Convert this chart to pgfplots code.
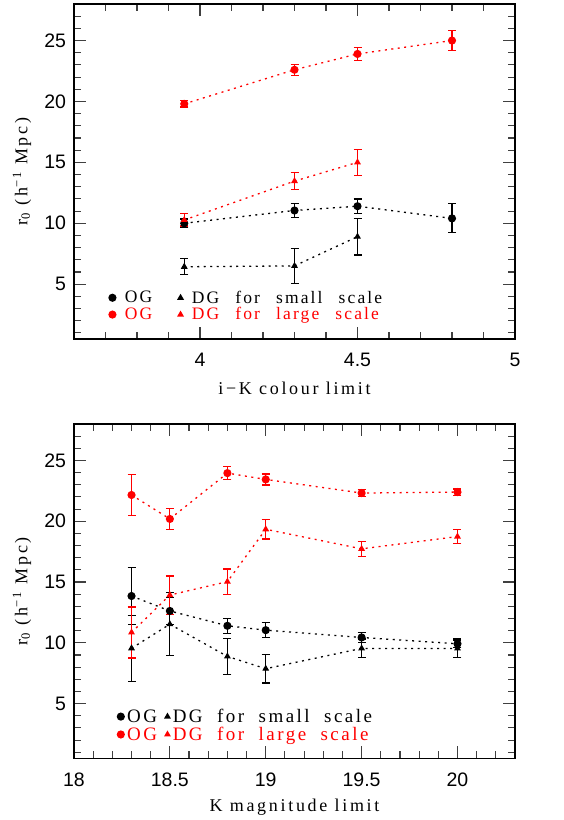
\documentclass[border=0pt]{standalone}
\usepackage{fontspec}
\usepackage{pgfplots}
\pgfplotsset{compat=1.18}
\newfontfamily\labfont{Liberation Serif}[LetterSpace=15]
\newfontfamily\legfontA{Liberation Serif}[LetterSpace=12, WordSpace=2.5]
\newfontfamily\legfontB{Liberation Serif}[LetterSpace=13, WordSpace=2]
\newfontfamily\tickfont{Liberation Sans}
\definecolor{pred}{RGB}{255,0,0}

\pgfplotsset{
  myax/.style={
    scale only axis, width=441pt,
    ymin=0.5, ymax=28,
    ytick={5,10,...,25}, minor ytick={1,2,...,28},
    tick align=inside, xtick pos=both, ytick pos=both,
    major tick length=12pt, minor tick length=7pt,
    axis line style={line width=1.6pt},
    every tick/.style={line width=1.1pt, black!75},
    /pgf/number format/assume math mode=true,
    ticklabel style={font=\tickfont\fontsize{19.5}{22}\selectfont},
    xticklabel style={yshift=-11pt},
    yticklabel style={xshift=-4.5pt},
    every axis y label/.style={at={(axis description cs:0,0.5)}, xshift=-52pt, rotate=90, anchor=center, font=\labfont\fontsize{18}{20}\selectfont},
    every axis x label/.style={at={(axis description cs:0.5,0)}, yshift=-49pt, anchor=center, font=\labfont\fontsize{18}{20}\selectfont},
    ylabel={r\textsubscript{0} (h\textsuperscript{−1} Mpc)},
    legend columns=2,
    legend cell align=left,
    legend image code/.code={\path[##1] plot coordinates {(0pt,0pt)};},
    legend style={draw=none, fill=none, inner sep=0pt, row sep=-1pt},
  },
  bs/.style={black, mark=*, mark size=3.4pt, line width=1.3pt, dash pattern=on 2pt off 4.5pt, mark options={solid},
    error bars/.cd, y dir=both, y explicit,
    error bar style={solid, line width=1.2pt},
    error mark options={rotate=90, mark size=4pt, line width=1.2pt, solid}},
  bt/.style={black, mark=triangle*, mark size=2.7pt, line width=1.3pt, dash pattern=on 2pt off 4.5pt, mark options={solid},
    error bars/.cd, y dir=both, y explicit,
    error bar style={solid, line width=1.2pt},
    error mark options={rotate=90, mark size=4pt, line width=1.2pt, solid}},
  rs/.style={pred, mark=*, mark size=3.4pt, line width=1.3pt, dash pattern=on 2pt off 4.5pt, mark options={solid},
    error bars/.cd, y dir=both, y explicit,
    error bar style={solid, line width=1.2pt},
    error mark options={rotate=90, mark size=4pt, line width=1.2pt, solid}},
  rt/.style={pred, mark=triangle*, mark size=2.7pt, line width=1.3pt, dash pattern=on 2pt off 4.5pt, mark options={solid},
    error bars/.cd, y dir=both, y explicit,
    error bar style={solid, line width=1.2pt},
    error mark options={rotate=90, mark size=4pt, line width=1.2pt, solid}},
}

\begin{document}
\begin{tikzpicture}[x=1pt,y=1pt]
\useasboundingbox (0,0) rectangle (563,820);

% ---------------- top panel ----------------
\begin{axis}[myax, at={(74pt,481pt)}, anchor=south west, height=335pt,
  xmin=3.6, xmax=5, xtick={4,4.5,5}, minor xtick={3.6,3.7,...,5.0},
  xticklabels={4,4.5,5},
  xlabel={i−K colour limit},
  legend style={at={(axis description cs:0.079,0.098)}, anchor=west,
    font=\legfontA\fontsize{17.5}{19}\selectfont,
    /tikz/every odd column/.append style={column sep=7pt},
    /tikz/every even column/.append style={column sep=24pt}},
]
\addplot+[bs] table[x=x,y=y,y error=e] {
x y e
3.95 10.0 0.35
4.3 11.05 0.57
4.5 11.4 0.6
4.8 10.4 1.19
};
\addlegendentry{OG}
\addplot+[bt] table[x=x,y=y,y error=e] {
x y e
3.95 6.43 0.65
4.3 6.5 1.45
4.5 8.9 1.5
};
\addlegendentry{DG for small scale}
\addplot+[rs] table[x=x,y=y,y error=e] {
x y e
3.95 19.8 0.25
4.3 22.6 0.44
4.5 23.9 0.55
4.8 25.0 0.8
};
\addlegendentry{\textcolor{pred}{OG}}
\addplot+[rt] table[x=x,y=y,y error=e] {
x y e
3.95 10.27 0.5
4.3 13.46 0.72
4.5 15.0 1.05
};
\addlegendentry{\textcolor{pred}{DG for large scale}}
\end{axis}

% ---------------- bottom panel ----------------
\begin{axis}[myax, at={(74pt,61.7pt)}, anchor=south west, height=334.3pt,
  xmin=18, xmax=20.3, xtick={18,18.5,19,19.5,20}, minor xtick={18.1,18.2,...,20.3},
  xticklabels={18,18.5,19,19.5,20},
  xlabel={K magnitude limit},
  legend style={at={(axis description cs:0.098,0.098)}, anchor=west,
    font=\legfontB\fontsize{19}{20}\selectfont,
    /tikz/every odd column/.append style={column sep=1pt},
    /tikz/every even column/.append style={column sep=6pt}},
]
\addplot+[bs] table[x=x,y=y,y error=e] {
x y e
18.3 13.85 2.33
18.5 12.62 1.1
18.8 11.4 0.61
19.0 11.04 0.61
19.5 10.44 0.4
20.0 9.92 0.3
};
\addlegendentry{OG}
\addplot+[bt] table[x=x,y=y,y error=e] {
x y e
18.3 9.55 2.72
18.5 11.53 2.6
18.8 8.88 1.5
19.0 7.87 1.17
19.5 9.54 0.78
20.0 9.54 0.78
};
\addlegendentry{DG for small scale}
\addplot+[rs] table[x=x,y=y,y error=e] {
x y e
18.3 22.16 1.7
18.5 20.19 0.89
18.8 23.96 0.53
19.0 23.44 0.45
19.5 22.32 0.3
20.0 22.4 0.26
};
\addlegendentry{\textcolor{pred}{OG}}
\addplot+[rt] table[x=x,y=y,y error=e] {
x y e
18.3 10.85 2.1
18.5 13.93 1.57
18.8 15.03 1.05
19.0 19.34 0.8
19.5 17.73 0.6
20.0 18.74 0.55
};
\addlegendentry{\textcolor{pred}{DG for large scale}}
\end{axis}
\end{tikzpicture}
\end{document}
